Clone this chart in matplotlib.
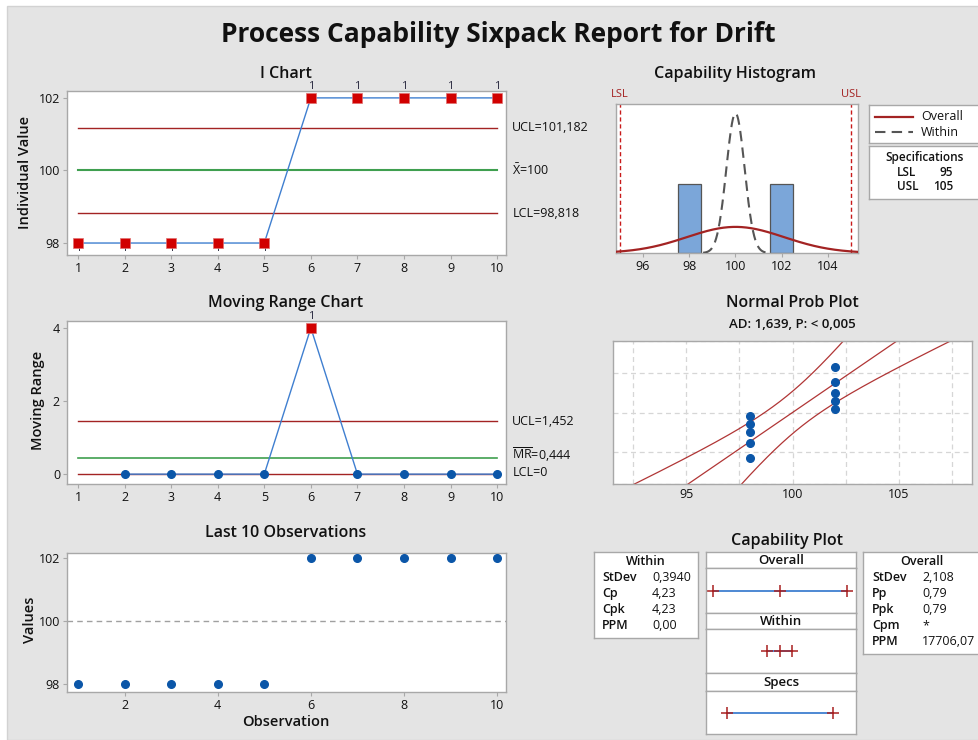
import numpy as np
import matplotlib
matplotlib.use("Agg")
import matplotlib.pyplot as plt
from matplotlib.patches import Rectangle
from math import erf, sqrt

plt.rcParams['font.family'] = ['Open Sans', 'DejaVu Sans']
plt.rcParams['mathtext.fontset'] = 'custom'
plt.rcParams['mathtext.rm'] = 'Open Sans'
plt.rcParams['mathtext.it'] = 'Open Sans'

# ---------------- data ----------------
obs = [1, 2, 3, 4, 5, 6, 7, 8, 9, 10]
values = [98, 98, 98, 98, 98, 102, 102, 102, 102, 102]
mr_obs = [2, 3, 4, 5, 6, 7, 8, 9, 10]
mr_values = [0, 0, 0, 0, 4, 0, 0, 0, 0]
i_limits = {"UCL": 101.182, "CL": 100.0, "LCL": 98.818}
mr_limits = {"UCL": 1.452, "CL": 0.444, "LCL": 0.0}
i_out = [1, 2, 3, 4, 5, 6, 7, 8, 9, 10]
mr_out = [6]
lsl, usl = 95, 105
mean = 100.0
sd_within = 0.3940
sd_overall = 2.108
hist_edges = [97.5, 98.5, 99.5, 100.5, 101.5, 102.5]
ad_text = "AD: 1,639, P: < 0,005"
within_labels = ["StDev", "Cp", "Cpk", "PPM"]
within_vals = ["0,3940", "4,23", "4,23", "0,00"]
overall_labels = ["StDev", "Pp", "Ppk", "Cpm", "PPM"]
overall_vals = ["2,108", "0,79", "0,79", "*", "17706,07"]

# ---------------- figure ----------------
W, H = 979, 740
fig = plt.figure(figsize=(W / 100, H / 100), dpi=100, facecolor='white')
fig.patches.append(Rectangle((7 / W, 0), 1, 1 - 6 / H, transform=fig.transFigure,
                             facecolor='#e4e4e4', edgecolor='#d2d2d2', lw=1, zorder=-10))

def rect(l, t, r, b):
    return [l / W, 1 - b / H, (r - l) / W, (b - t) / H]

def ftext(x, y, s, **kw):
    return fig.text(x / W, 1 - y / H, s, **kw)

SPINE = '#a8a8a8'
BLUE_L = '#3f7fd0'
BLUE_P = '#0b56a8'
RED_M = '#d10000'
DRED = '#a32323'
GREEN = '#3f9f4f'
TXT = '#111111'

def style(ax):
    for s in ax.spines.values():
        s.set_color(SPINE)
        s.set_linewidth(1.0)
    ax.tick_params(colors=SPINE, labelcolor=TXT, labelsize=9, length=3, width=0.8, pad=2)
    ax.set_facecolor('white')

ftext(498, 35, "Process Capability Sixpack Report for Drift", ha='center', va='center',
      fontsize=19, fontweight='bold', color=TXT)

title_kw = dict(ha='center', va='center', fontsize=11.5, fontweight='semibold', color=TXT)
ylab_kw = dict(ha='center', va='center', fontsize=10.5, fontweight='semibold', rotation=90, color=TXT)

# ---------------- I chart ----------------
ax1 = fig.add_axes(rect(67, 91, 506, 255))
style(ax1)
ax1.set_xlim(0.764, 10.19)
ax1.set_ylim(97.67, 102.19)
ax1.set_xticks(obs)
ax1.set_yticks([98, 100, 102])
ax1.plot([obs[0], obs[-1]], [i_limits["UCL"]] * 2, color=DRED, lw=1.0)
ax1.plot([obs[0], obs[-1]], [i_limits["LCL"]] * 2, color=DRED, lw=1.0)
ax1.plot([obs[0], obs[-1]], [i_limits["CL"]] * 2, color=GREEN, lw=1.5)
ax1.plot(obs, values, color=BLUE_L, lw=1.0, zorder=3)
xo = [obs[i - 1] for i in i_out]
yo = [values[i - 1] for i in i_out]
ax1.plot(xo, yo, 's', color=RED_M, ms=7, mec='#e07070', mew=0.5, zorder=4)
for x, y in zip(xo, yo):
    if y > i_limits["UCL"]:
        ax1.annotate("1", (x, y), xytext=(0, 4), textcoords='offset points', ha='center',
                     va='bottom', fontsize=8, color='#2a2a40', annotation_clip=False)
    else:
        t = ax1.annotate("1", (x, y), xytext=(0, 0), textcoords='offset points', ha='center',
                         va='top', fontsize=8, color='#2a2a40', zorder=2)
        t.set_clip_on(True)
        t.set_clip_box(ax1.bbox)
lab_i = [("UCL=101,182", i_limits["UCL"]), (r"$\bar{\mathrm{X}}$=100", i_limits["CL"]),
         ("LCL=98,818", i_limits["LCL"])]
for s, v in lab_i:
    ax1.annotate(s, (1, v), xycoords=('axes fraction', 'data'), xytext=(4.5, 0),
                 textcoords='offset points', va='center', ha='left', fontsize=9, color=TXT)
ftext(286, 74, "I Chart", **title_kw)
ftext(25, 172, "Individual Value", **ylab_kw)

# ---------------- MR chart ----------------
ax2 = fig.add_axes(rect(67, 321, 506, 484))
style(ax2)
ax2.set_xlim(0.764, 10.19)
ax2.set_ylim(-0.27, 4.19)
ax2.set_xticks(obs)
ax2.set_yticks([0, 2, 4])
ax2.plot([obs[0], obs[-1]], [mr_limits["UCL"]] * 2, color=DRED, lw=1.0)
ax2.plot([obs[0], obs[-1]], [mr_limits["LCL"]] * 2, color=DRED, lw=1.0)
ax2.plot([obs[0], obs[-1]], [mr_limits["CL"]] * 2, color=GREEN, lw=1.2)
ax2.plot(mr_obs, mr_values, color=BLUE_L, lw=1.0, zorder=3)
in_x = [x for x in mr_obs if x not in mr_out]
in_y = [mr_values[mr_obs.index(x)] for x in in_x]
ax2.plot(in_x, in_y, 'o', color=BLUE_P, ms=5.5, zorder=4)
out_y = [mr_values[mr_obs.index(x)] for x in mr_out]
ax2.plot(mr_out, out_y, 's', color=RED_M, ms=7, mec='#e07070', mew=0.5, zorder=4)
for x, y in zip(mr_out, out_y):
    ax2.annotate("1", (x, y), xytext=(0, 4), textcoords='offset points', ha='center',
                 va='bottom', fontsize=8, color='#2a2a40', annotation_clip=False)
lab_mr = [("UCL=1,452", mr_limits["UCL"], 0), (r"$\overline{\mathrm{MR}}$=0,444", mr_limits["CL"], 2),
          ("LCL=0", mr_limits["LCL"], 1)]
for s, v, dy in lab_mr:
    ax2.annotate(s, (1, v), xycoords=('axes fraction', 'data'), xytext=(4.5, dy),
                 textcoords='offset points', va='center', ha='left', fontsize=9, color=TXT)
ftext(286, 303, "Moving Range Chart", **title_kw)
ftext(38, 400, "Moving Range", **ylab_kw)

# ---------------- Last 10 observations ----------------
ax3 = fig.add_axes(rect(67, 553, 506, 692))
style(ax3)
ax3.set_xlim(0.764, 10.19)
ax3.set_ylim(97.75, 102.16)
ax3.set_xticks([2, 4, 6, 8, 10])
ax3.set_yticks([98, 100, 102])
ax3.axhline(mean, color='#a0a0a0', lw=1.0, ls=(0, (4, 3)))
ax3.plot(obs, values, 'o', color=BLUE_P, ms=5.5, zorder=4)
ftext(286, 533, "Last 10 Observations", **title_kw)
ftext(30, 620, "Values", **ylab_kw)
ftext(286, 722, "Observation", ha='center', va='center', fontsize=10.5,
      fontweight='semibold', color=TXT)

# ---------------- Capability histogram ----------------
ax4 = fig.add_axes(rect(616, 104, 858, 253))
style(ax4)
ax4.set_xlim(94.83, 105.3)
ax4.set_ylim(0, 10.8)
ax4.set_yticks([])
ax4.set_xticks([96, 98, 100, 102, 104])
counts, edges = np.histogram(values, bins=hist_edges)
widths = np.diff(edges)
for c, e0, w in zip(counts, edges[:-1], widths):
    if c > 0:
        ax4.bar(e0, c, width=w, align='edge', color='#7ba6d9', edgecolor='#555555', lw=0.9, zorder=2)
n = len(values)
bw = widths[0]
xs = np.linspace(94.83, 105.3, 400)
pdf_o = n * bw * np.exp(-0.5 * ((xs - mean) / sd_overall) ** 2) / (sd_overall * np.sqrt(2 * np.pi))
ax4.plot(xs, pdf_o, color=DRED, lw=1.6, zorder=3)
xw = np.linspace(98.6, 101.4, 300)
pdf_w = n * bw * np.exp(-0.5 * ((xw - mean) / sd_within) ** 2) / (sd_within * np.sqrt(2 * np.pi))
ax4.plot(xw, pdf_w, color='#555555', lw=1.5, ls=(0, (5, 3)), zorder=3)
ax4.axvline(lsl, color='#c81a1a', lw=1.0, ls=(0, (3, 2)))
ax4.axvline(usl, color='#c81a1a', lw=1.0, ls=(0, (3, 2)))
ax4.annotate("LSL", (lsl, 1), xycoords=('data', 'axes fraction'), xytext=(0, 3),
             textcoords='offset points', ha='center', va='bottom', fontsize=8, color='#a32020')
ax4.annotate("USL", (usl, 1), xycoords=('data', 'axes fraction'), xytext=(0, 3),
             textcoords='offset points', ha='center', va='bottom', fontsize=8, color='#a32020')
ftext(735, 74, "Capability Histogram", **title_kw)

# legend boxes
def box(l, t, r, b):
    a = fig.add_axes(rect(l, t, r, b))
    a.set_xticks([]); a.set_yticks([])
    a.set_xlim(l, r); a.set_ylim(b, t)
    for s in a.spines.values():
        s.set_color(SPINE); s.set_linewidth(1.0)
    a.set_facecolor('white')
    return a

lg = box(869, 105, 985, 143)
lg.plot([875, 913], [117, 117], color=DRED, lw=1.6)
lg.plot([875, 913], [132, 132], color='#555555', lw=1.5, ls=(0, (5, 3)))
lg.text(921, 117, "Overall", va='center', ha='left', fontsize=9, color=TXT)
lg.text(921, 132, "Within", va='center', ha='left', fontsize=9, color=TXT)
sp = box(869, 146, 985, 199)
sp.text(925, 157, "Specifications", va='center', ha='center', fontsize=8.5, color=TXT, fontweight='semibold')
sp.text(897, 172, "LSL", va='center', ha='left', fontsize=8.5, color=TXT, fontweight='semibold')
sp.text(953, 172, f"{lsl}", va='center', ha='right', fontsize=8.5, color=TXT, fontweight='semibold')
sp.text(897, 187, "USL", va='center', ha='left', fontsize=8.5, color=TXT, fontweight='semibold')
sp.text(953, 187, f"{usl}", va='center', ha='right', fontsize=8.5, color=TXT, fontweight='semibold')

# ---------------- Normal probability plot ----------------
ax5 = fig.add_axes(rect(613, 341, 972, 484))
style(ax5)
ax5.set_xlim(91.57, 108.43)
zlim = 2.326
ax5.set_ylim(-zlim, zlim)
ax5.set_xticks([95, 100, 105])
ax5.set_xticks([92.5, 97.5, 102.5, 107.5], minor=True)
ax5.tick_params(axis='x', which='both', length=0, pad=3)
zgrid = [-2.326, -1.2816, 0.0, 1.2816, 2.326]
ax5.set_yticks(zgrid)
ax5.set_yticklabels([])
ax5.tick_params(axis='y', length=0)
ax5.grid(True, which='both', color='#d6d6d6', lw=0.9, ls=(0, (4, 3)))
ax5.set_axisbelow(True)
srt = np.sort(values)
ranks = (np.arange(1, n + 1) - 0.3) / (n + 0.4)
def norm_ppf(p):
    lo, hi = -8.0, 8.0
    for _ in range(80):
        mid = 0.5 * (lo + hi)
        if 0.5 * (1 + erf(mid / sqrt(2))) < p:
            lo = mid
        else:
            hi = mid
    return 0.5 * (lo + hi)
zs = np.array([norm_ppf(p) for p in ranks])
zz = np.linspace(-zlim - 0.1, zlim + 0.1, 200)
fit = mean + sd_overall * zz
half = 1.96 * sd_overall * np.sqrt(1.0 / n + zz ** 2 / (2.0 * n))
ax5.plot(fit, zz, color='#a82020', lw=0.9, alpha=0.9, zorder=2)
ax5.plot(fit - half, zz, color='#a82020', lw=0.9, alpha=0.9, zorder=2)
ax5.plot(fit + half, zz, color='#a82020', lw=0.9, alpha=0.9, zorder=2)
ax5.plot(srt, zs, 'o', color=BLUE_P, ms=5.5, zorder=4)
ftext(792, 303, "Normal Prob Plot", **title_kw)
ftext(792, 324, ad_text, ha='center', va='center', fontsize=9.5, fontweight='semibold', color=TXT)

# ---------------- Capability plot ----------------
ftext(787, 541, "Capability Plot", **title_kw)
wb = box(594, 552, 698, 638)
wb.text(646, 562, "Within", ha='center', va='center', fontsize=9, color=TXT, fontweight='semibold')
for i, (l, v) in enumerate(zip(within_labels, within_vals)):
    y = 578 + 16 * i
    wb.text(602, y, l, ha='left', va='center', fontsize=9, color=TXT, fontweight='semibold')
    wb.text(652, y, v, ha='left', va='center', fontsize=9, color=TXT)
ob = box(863, 552, 985, 654)
ob.text(922, 562, "Overall", ha='center', va='center', fontsize=9, color=TXT, fontweight='semibold')
for i, (l, v) in enumerate(zip(overall_labels, overall_vals)):
    y = 578 + 16 * i
    ob.text(872, y, l, ha='left', va='center', fontsize=9, color=TXT, fontweight='semibold')
    ob.text(922, y, v, ha='left', va='center', fontsize=9, color=TXT)

panels = [("Overall", 552, 568, 613, [mean - 3 * sd_overall, mean, mean + 3 * sd_overall]),
          ("Within", 613, 629, 673, [mean - 3 * sd_within, mean, mean + 3 * sd_within]),
          ("Specs", 673, 691, 734, [lsl, usl])]
for name, t, m, b, pts in panels:
    hb = box(706, t, 856, m)
    hb.text(781, (t + m) / 2 + 0.5, name, ha='center', va='center', fontsize=9.5,
            color=TXT, fontweight='semibold')
    pa = fig.add_axes(rect(706, m, 856, b))
    pa.set_xlim(93.0, 107.2)
    pa.set_ylim(0, 1)
    pa.set_xticks([]); pa.set_yticks([])
    for s in pa.spines.values():
        s.set_color(SPINE); s.set_linewidth(1.0)
    pa.plot([pts[0], pts[-1]], [0.5, 0.5], color=BLUE_L, lw=1.3)
    pa.plot(pts, [0.5] * len(pts), '+', color='#a82020', ms=9, mew=1.1)

fig.savefig("out.png", dpi=100, facecolor=fig.get_facecolor())
